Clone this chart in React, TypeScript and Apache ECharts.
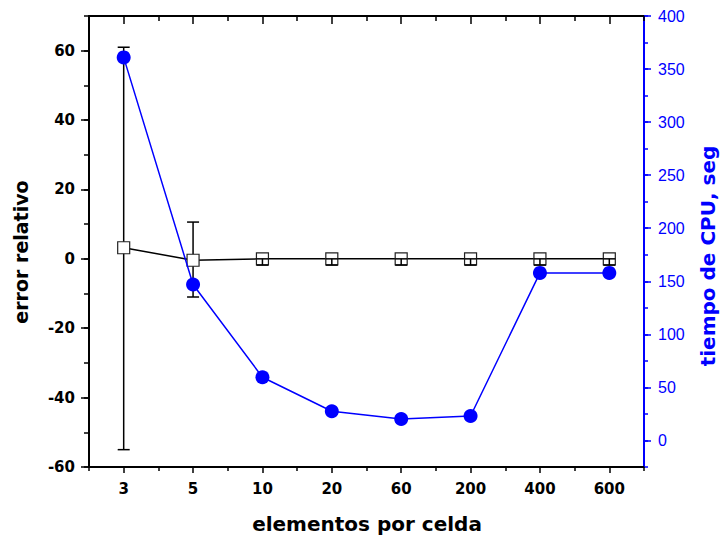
import React, { useEffect, useRef } from "react";
import * as echarts from "echarts";

const categories = ["3", "5", "10", "20", "60", "200", "400", "600"];
const errorRelativo = [3.2, -0.4, 0, 0, 0, 0, 0, 0];
const errLow = [-55, -11, -1.8, -1.8, -1.8, -1.8, -1.8, -1.8];
const errHigh = [61, 10.6, 0, 0, 0, 0, 0, 0];
const tiempoCPU = [361, 147, 59.6, 27.5, 20.2, 23.1, 157.9, 157.9];

const leftTitle = "error relativo";
const rightTitle = "tiempo de CPU, seg";
const bottomTitle = "elementos por celda";

const BLUE = "#0000FF";
const BLACK = "#000000";

export default function App() {
  const ref = useRef<HTMLDivElement>(null);
  useEffect(() => {
    if (!ref.current) return;
    const chart = echarts.init(ref.current, null, { renderer: "svg" });

    const bigIdx = [0, 1];
    const errBig = bigIdx.map((i) => [i, errLow[i], errHigh[i]]);
    const errSmall = categories
      .map((_, i) => i)
      .filter((i) => bigIdx.indexOf(i) < 0)
      .map((i) => [i, errLow[i], errHigh[i]]);

    const renderErr = (params: any, api: any) => {
      const x = api.value(0);
      const pLo = api.coord([x, api.value(1)]);
      const pHi = api.coord([x, api.value(2)]);
      const hw = 6;
      const style = { stroke: BLACK, lineWidth: 1.5, fill: "none" };
      return {
        type: "group",
        children: [
          { type: "line", shape: { x1: pHi[0], y1: pHi[1], x2: pLo[0], y2: pLo[1] }, style },
          { type: "line", shape: { x1: pHi[0] - hw, y1: pHi[1], x2: pHi[0] + hw, y2: pHi[1] }, style },
          { type: "line", shape: { x1: pLo[0] - hw, y1: pLo[1], x2: pLo[0] + hw, y2: pLo[1] }, style },
        ],
      };
    };

    const catAxisBase = {
      type: "category",
      data: categories,
      boundaryGap: true,
      splitLine: { show: false },
    };

    const option: any = {
      animation: false,
      backgroundColor: "#ffffff",
      grid: { left: 89, top: 16, width: 555, height: 451, containLabel: false },
      xAxis: [
        {
          ...catAxisBase,
          position: "bottom",
          axisLine: { show: true, onZero: false, lineStyle: { color: BLACK, width: 2 } },
          axisTick: { show: true, alignWithLabel: true, inside: false, length: 6, lineStyle: { color: BLACK, width: 1.5 } },
          axisLabel: {
            show: true,
            margin: 14,
            color: BLACK,
            fontFamily: "DejaVu Sans",
            fontWeight: "bold",
            fontSize: 15,
          },
        },
        {
          ...catAxisBase,
          position: "bottom",
          axisLine: { show: false, onZero: false },
          axisTick: { show: true, alignWithLabel: false, inside: false, length: 4, lineStyle: { color: BLACK, width: 1.5 } },
          axisLabel: { show: false },
        },
        {
          ...catAxisBase,
          position: "top",
          axisLine: { show: true, onZero: false, lineStyle: { color: BLACK, width: 2 } },
          axisTick: { show: true, alignWithLabel: true, inside: true, length: 8, lineStyle: { color: BLACK, width: 1.5 } },
          axisLabel: { show: false },
        },
        {
          ...catAxisBase,
          position: "top",
          axisLine: { show: false, onZero: false },
          axisTick: { show: true, alignWithLabel: false, inside: true, length: 5, lineStyle: { color: BLACK, width: 1.5 } },
          axisLabel: { show: false },
        },
      ],
      yAxis: [
        {
          type: "value",
          position: "left",
          min: -60,
          max: 70,
          interval: 20,
          splitLine: { show: false },
          axisLine: { show: true, onZero: false, lineStyle: { color: BLACK, width: 2 } },
          axisTick: { show: true, inside: false, length: 8, lineStyle: { color: BLACK, width: 1.5 } },
          axisLabel: {
            show: true,
            showMaxLabel: false,
            margin: 14,
            color: BLACK,
            fontFamily: "DejaVu Sans",
            fontWeight: "bold",
            fontSize: 15,
          },
        },
        {
          type: "value",
          position: "right",
          min: -25,
          max: 400,
          minInterval: 50,
          maxInterval: 50,
          splitNumber: 8,
          splitLine: { show: false },
          axisLine: { show: true, onZero: false, lineStyle: { color: BLUE, width: 2 } },
          axisTick: { show: true, inside: false, length: 7, lineStyle: { color: BLUE, width: 1.5 } },
          axisLabel: {
            show: true,
            showMinLabel: false,
            margin: 14,
            color: BLUE,
            fontFamily: "Liberation Sans",
            fontSize: 16,
          },
        },
        {
          type: "value",
          position: "left",
          min: -60,
          max: 70,
          interval: 10,
          splitLine: { show: false },
          axisLine: { show: false, onZero: false },
          axisTick: { show: true, inside: false, length: 5, lineStyle: { color: BLACK, width: 1.5 } },
          axisLabel: { show: false },
        },
        {
          type: "value",
          position: "right",
          min: -25,
          max: 400,
          interval: 25,
          splitLine: { show: false },
          axisLine: { show: false, onZero: false },
          axisTick: { show: true, inside: false, length: 4, lineStyle: { color: BLUE, width: 1.5 } },
          axisLabel: { show: false },
        },
      ],
      graphic: [
        {
          type: "text",
          x: 21,
          y: 252,
          rotation: Math.PI / 2,
          style: {
            text: leftTitle,
            font: "bold 19px 'DejaVu Sans'",
            fill: BLACK,
            textAlign: "center",
            textVerticalAlign: "middle",
          },
        },
        {
          type: "text",
          x: 708,
          y: 256,
          rotation: Math.PI / 2,
          style: {
            text: rightTitle,
            font: "bold 20px 'DejaVu Sans'",
            fill: BLUE,
            textAlign: "center",
            textVerticalAlign: "middle",
          },
        },
        {
          type: "text",
          x: 367,
          y: 524,
          style: {
            text: bottomTitle,
            font: "bold 20px 'DejaVu Sans'",
            fill: BLACK,
            textAlign: "center",
            textVerticalAlign: "middle",
          },
        },
      ],
      series: [
        {
          type: "custom",
          name: "errBig",
          xAxisIndex: 0,
          yAxisIndex: 0,
          z: 1,
          renderItem: renderErr,
          encode: { x: 0, y: [1, 2] },
          data: errBig,
        },
        {
          type: "line",
          name: "error relativo",
          xAxisIndex: 0,
          yAxisIndex: 0,
          z: 2,
          data: errorRelativo,
          symbol: "rect",
          symbolSize: 12,
          showSymbol: true,
          lineStyle: { color: BLACK, width: 1.5 },
          itemStyle: { color: "#ffffff", borderColor: "#222222", borderWidth: 1.2 },
        },
        {
          type: "custom",
          name: "errSmall",
          xAxisIndex: 0,
          yAxisIndex: 0,
          z: 3,
          renderItem: renderErr,
          encode: { x: 0, y: [1, 2] },
          data: errSmall,
        },
        {
          type: "line",
          name: "tiempo de CPU",
          xAxisIndex: 0,
          yAxisIndex: 1,
          z: 4,
          data: tiempoCPU,
          symbol: "circle",
          symbolSize: 14,
          showSymbol: true,
          lineStyle: { color: BLUE, width: 1.5 },
          itemStyle: { color: BLUE, borderWidth: 0 },
        },
      ],
    };

    chart.setOption(option);
    return () => chart.dispose();
  }, []);

  return (
    <div
      ref={ref}
      style={{ position: "fixed", left: 0, top: 0, width: 721, height: 535, background: "#fff" }}
    />
  );
}
